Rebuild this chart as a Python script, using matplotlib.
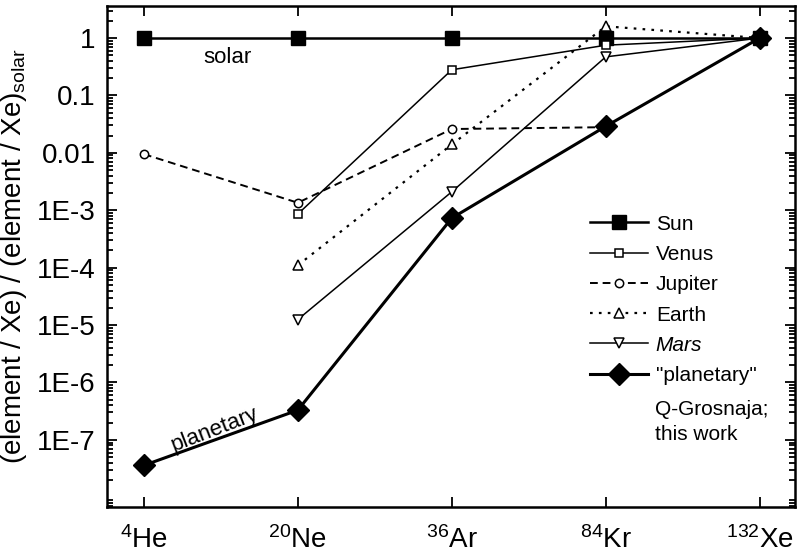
import matplotlib
matplotlib.use('Agg')
import matplotlib.pyplot as plt
from matplotlib.ticker import FixedLocator, FixedFormatter, LogLocator, NullFormatter
import numpy as np

plt.rcParams['font.family'] = ['Liberation Sans', 'DejaVu Sans']
plt.rcParams['mathtext.fontset'] = 'custom'
plt.rcParams['mathtext.rm'] = 'Liberation Sans'
plt.rcParams['mathtext.it'] = 'Liberation Sans:italic'

# isotopes on the x axis
isotopes = [r'$^{4}$He', r'$^{20}$Ne', r'$^{36}$Ar', r'$^{84}$Kr', r'$^{132}$Xe']

# (element/Xe) / (element/Xe)solar
sun = [1, 1, 1, 1, 1]
venus = [np.nan, 8.6e-4, 0.28, 0.75, 1]
jupiter = [9.5e-3, 1.35e-3, 0.026, 0.028, np.nan]
earth = [np.nan, 1.1e-4, 0.014, 1.6, 1]
mars = [np.nan, 1.25e-5, 2.1e-3, 0.47, 1]
planetary = [3.6e-8, 3.3e-7, 7.3e-4, 0.029, 1]

ytick_vals = [1e-7, 1e-6, 1e-5, 1e-4, 1e-3, 1e-2, 1e-1, 1]
ytick_labels = ['1E-7', '1E-6', '1E-5', '1E-4', '1E-3', '0.01', '0.1', '1']

fig = plt.figure(figsize=(8.04, 5.54), dpi=100)
ax = fig.add_axes([0.133, 0.085, 0.856, 0.904])
x = np.arange(len(isotopes))

ax.plot(x, sun, '-s', color='k', lw=1.8, ms=10, label='Sun')
ax.plot(x, venus, '-s', color='k', lw=1.1, ms=6, mfc='white', mew=1.1, label='Venus')
ax.plot(x, jupiter, 'o', ls=(0, (4, 2.5)), color='k', lw=1.4, ms=6, mfc='white', mew=1.1, label='Jupiter')
ax.plot(x, earth, '^', ls=(0, (1.2, 2.8)), color='k', lw=1.6, ms=7, mfc='white', mew=1.1, label='Earth')
ax.plot(x, mars, '-v', color='k', lw=1.1, ms=7, mfc='white', mew=1.1, label='Mars')
ax.plot(x, planetary, '-D', color='k', lw=2.2, ms=11, label='"planetary"')

ax.set_yscale('log')
ax.set_ylim(6.8e-9, 3.6)
ax.set_xlim(-0.24, 4.23)
ax.yaxis.set_major_locator(FixedLocator(ytick_vals))
ax.yaxis.set_major_formatter(FixedFormatter(ytick_labels))
ax.yaxis.set_minor_locator(LogLocator(base=10, subs=np.arange(2, 10), numticks=20))
ax.yaxis.set_minor_formatter(NullFormatter())
ax.set_xticks(x)
ax.set_xticklabels(isotopes)

ax.tick_params(which='both', direction='in', top=True, right=True, width=1.3)
ax.tick_params(which='major', length=7, labelsize=20, pad=8)
ax.tick_params(which='minor', length=4)
ax.tick_params(axis='x', pad=14)
for s in ax.spines.values():
    s.set_linewidth(1.8)

ax.set_ylabel(r'(element / Xe) / (element / Xe)$_{\rm solar}$', fontsize=20, labelpad=6)

ax.text(0.54, 0.45, 'solar', fontsize=16, ha='center', va='center')
ax.text(0.46, 1.5e-7, 'planetary', fontsize=16, ha='center', va='center', rotation=21)

leg = ax.legend(loc='upper left', bbox_to_anchor=(0.69, 0.60), frameon=False,
                fontsize=15, handlelength=2.8, handletextpad=0.35,
                labelspacing=0.54, borderaxespad=0)
leg.get_texts()[4].set_fontstyle('italic')
ax.text(0.796, 0.214, 'Q-Grosnaja;\nthis work', transform=ax.transAxes,
        fontsize=15, ha='left', va='top', linespacing=1.45)

fig.savefig('out.png', dpi=100)
